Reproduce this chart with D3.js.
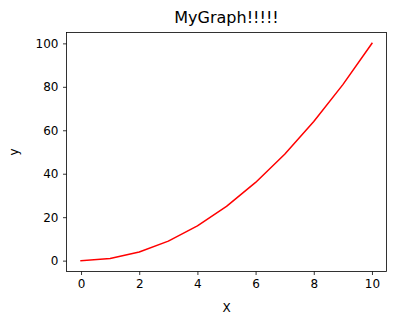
<!DOCTYPE html>
<html><head><meta charset="utf-8">
<script src="https://cdn.jsdelivr.net/npm/d3@7"></script>
<style>body{margin:0;background:#fff}svg{display:block}text{font-family:"DejaVu Sans",sans-serif;fill:#000}</style>
</head><body>
<svg id="c" width="395" height="325"></svg>
<script>
const xs = [0,1,2,3,4,5,6,7,8,9,10];
const ys = [0,1,4,9,16,25,36,49,64,81,100];
const xTicks = [0,2,4,6,8,10];
const yTicks = [0,20,40,60,80,100];
const title = "MyGraph!!!!!";
const xLabel = "X", yLabel = "y";

const L=66.5, R=386.5, T=32.5, B=271.5;
const svg = d3.select("#c");
const x = d3.scaleLinear().domain([-0.5,10.5]).range([L,R]);
const y = d3.scaleLinear().domain([-5,105]).range([B,T]);

svg.append("path").datum(xs.map((d,i)=>[d,ys[i]]))
  .attr("d", d3.line().x(d=>x(d[0])).y(d=>y(d[1])))
  .attr("fill","none").attr("stroke","#ff0000").attr("stroke-width",1.5)
  .attr("stroke-linejoin","round").attr("stroke-linecap","square");

svg.append("rect").attr("x",L).attr("y",T).attr("width",R-L).attr("height",B-T)
  .attr("fill","none").attr("stroke","#000").attr("stroke-width",0.8);

const xa = svg.append("g").attr("transform",`translate(0,${B})`)
  .call(d3.axisBottom(x).tickValues(xTicks).tickSize(3.5).tickPadding(4).tickFormat(d3.format("d")));
const ya = svg.append("g").attr("transform",`translate(${L},0)`)
  .call(d3.axisLeft(y).tickValues(yTicks).tickSize(3.5).tickPadding(4.5).tickFormat(d3.format("d")));
[xa,ya].forEach(a=>{a.select(".domain").remove();a.selectAll("line").attr("stroke","#000").attr("stroke-width",0.8);
  a.selectAll("text").attr("font-size",12).attr("font-family","DejaVu Sans").attr("fill","#000");});

svg.append("text").attr("x",(L+R)/2).attr("y",23).attr("text-anchor","middle").attr("font-size",16).text(title);
svg.append("text").attr("x",(L+R)/2).attr("y",312).attr("text-anchor","middle").attr("font-size",12).text(xLabel);
svg.append("text").attr("transform",`translate(17.5,${(T+B)/2}) rotate(-90)`).attr("text-anchor","middle").attr("font-size",12).text(yLabel);
</script>
</body></html>
